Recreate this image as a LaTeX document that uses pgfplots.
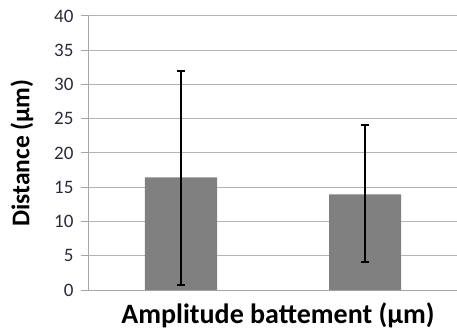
\documentclass[border=0pt]{standalone}
\usepackage{pgfplots}
\pgfplotsset{compat=1.18}
\usepackage{fontspec}
\setmainfont{Carlito}
\definecolor{barc}{HTML}{808080}
\definecolor{gridc}{HTML}{B4B4B4}
\definecolor{axc}{HTML}{A6A6A6}
\definecolor{tickc}{HTML}{2A2A38}
\begin{document}
\begin{tikzpicture}
\pgfplotstableread{
x y ep em
0 16.45 15.55 15.72
1 13.97 10.13 9.93
}\datatab
\begin{axis}[
  scale only axis,
  width=368pt, height=274pt,
  xmin=-0.5, xmax=1.5,
  ymin=0, ymax=40,
  ytick={0,5,...,40},
  xtick=\empty,
  axis x line*=bottom,
  axis y line*=left,
  axis line style={axc, line width=1pt, -},
  ymajorgrids,
  grid style={gridc, line width=1pt},
  tick align=outside,
  major tick length=8pt,
  ytick style={axc, line width=1pt},
  yticklabel={\fontsize{19}{22}\selectfont\color{tickc}\pgfmathprintnumber[assume math mode=true]{\tick}},
  yticklabel style={xshift=-4pt},
  ylabel={\textbf{Distance (µm)}},
  xlabel={\textbf{Amplitude battement (µm)}},
  ylabel style={font=\fontsize{25.5}{30}\selectfont, yshift=14pt},
  xlabel style={font=\fontsize{28}{33}\selectfont, yshift=-1pt, xshift=5pt},
  ybar, bar width=72pt,
]
\addplot[fill=barc, draw=none,
  error bars/.cd, y dir=both, y explicit,
  error bar style={black, line width=2.2pt},
  error mark options={rotate=90, mark size=4pt, line width=2.2pt, black}]
  table[x=x, y=y, y error plus=ep, y error minus=em]{\datatab};
\end{axis}
\pgfresetboundingbox
\path ([shift={(-89pt,-39pt)}]current axis.south west) rectangle ([shift={(0pt,16pt)}]current axis.north east);
\end{tikzpicture}
\end{document}
